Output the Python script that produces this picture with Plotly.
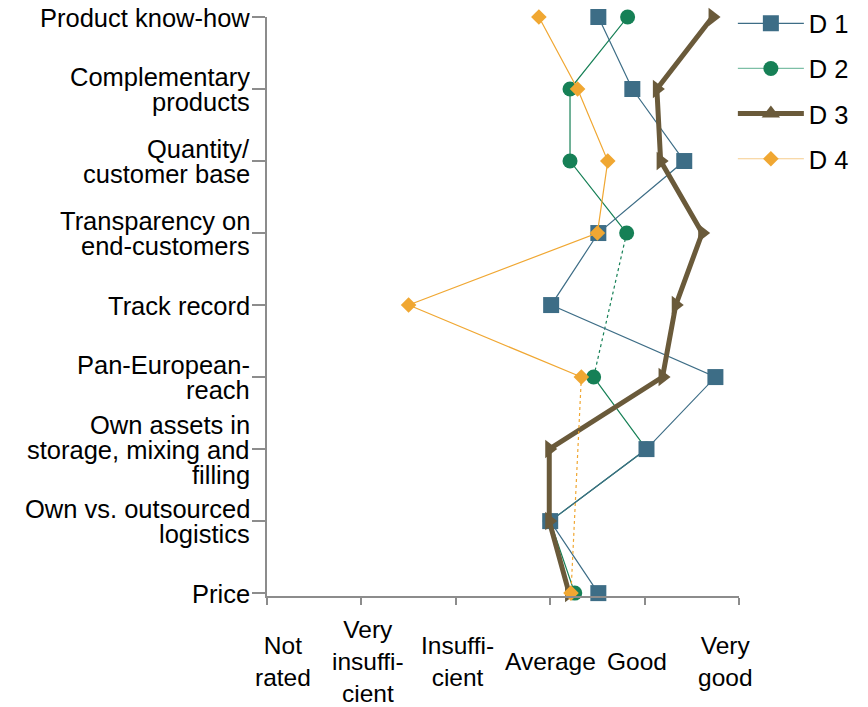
import plotly.graph_objects as go

# Assessment criteria (top to bottom); "\n" marks a line break in the label
criteria = [
    "Product know-how",
    "Complementary\nproducts",
    "Quantity/\ncustomer base",
    "Transparency on\nend-customers",
    "Track record",
    "Pan-European-\nreach",
    "Own assets in\nstorage, mixing and\nfilling",
    "Own vs. outsourced\nlogistics",
    "Price",
]

# Rating scale, 0 = not rated ... 5 = very good
rating_values = [0, 1, 2, 3, 4, 5]
rating_labels = ["Not<br>rated", "Very<br>insuffi-<br>cient", "Insuffi-<br>cient",
                 "Average", "Good", "Very<br>good"]

# Scores per candidate (None = not assessed)
d1 = [3.51, 3.87, 4.42, 3.51, 3.01, 4.75, 4.02, 3.00, 3.51]
d2 = [3.82, 3.21, 3.21, 3.81, None, 3.46, 4.02, 3.00, 3.26]
d3 = [4.72, 4.13, 4.17, 4.61, 4.33, 4.19, 2.99, 2.99, 3.20]
d4 = [2.88, 3.29, 3.61, 3.50, 1.50, 3.33, None, None, 3.22]

series = [
    # name, values, colour, line width, symbol in plot, symbol in legend, size, legend line colour
    ("D 1", d1, "#3d6d86", 1.2, "square", "square", 16, "#3d6d86"),
    ("D 2", d2, "#168056", 1.2, "circle", "circle", 15, "#7dbfa6"),
    ("D 3", d3, "#6a5a3a", 5.0, "triangle-right", "triangle-up", 16, "#6a5a3a"),
    ("D 4", d4, "#f0a732", 1.2, "diamond", "diamond", 12, "#f6cc8c"),
]
draw_order = [1, 0, 2, 3]

FONT = "Liberation Sans, Arial, sans-serif"
FS = 25.5
ypos = list(range(len(criteria)))

fig = go.Figure()

for idx in draw_order:
    name, vals, color, lw, sym, _, size, _ = series[idx]
    # dotted bridge across criteria without a score
    for i, v in enumerate(vals):
        if v is None and i > 0 and vals[i - 1] is not None:
            j = i
            while j < len(vals) and vals[j] is None:
                j += 1
            if j < len(vals):
                fig.add_trace(go.Scatter(
                    x=[vals[i - 1], vals[j]], y=[ypos[i - 1], ypos[j]],
                    mode="lines", line=dict(color=color, width=1.2, dash="dot"),
                    showlegend=False, hoverinfo="skip", cliponaxis=False))
    fig.add_trace(go.Scatter(
        x=vals, y=ypos, mode="lines+markers", name=name,
        line=dict(color=color, width=lw),
        marker=dict(symbol=sym, size=size, color=color),
        connectgaps=False, showlegend=False, cliponaxis=False))

# legend entries
for k, (name, vals, color, lw, _, lsym, size, lcol) in enumerate(series):
    fig.add_trace(go.Scatter(
        x=[None], y=[None], mode="lines+markers", name=name,
        legendgroup=name,
        line=dict(color=lcol, width=lw),
        marker=dict(symbol=lsym, size=size, color=color)))

annotations = []
# criterion labels: one box per line, stacked tightly and right-aligned to the axis
LINE_STEP = 25
for i, label in enumerate(criteria):
    lines = label.split("\n")
    n = len(lines)
    for k, line in enumerate(lines):
        annotations.append(dict(
            x=0, xref="paper", y=ypos[i], yref="y",
            text=line, showarrow=False, xanchor="right", yanchor="middle",
            height=LINE_STEP, valign="bottom", borderpad=0,
            xshift=-16, yshift=-(k - (n - 1) / 2) * LINE_STEP - 2,
            font=dict(family=FONT, size=FS, color="#000000")))

# rating labels below the horizontal axis
label_shift = [16, 7, 2, 0, -8, -14]
for v, txt, dx in zip(rating_values, rating_labels, label_shift):
    annotations.append(dict(
        x=v, xref="x", y=0, yref="paper",
        text=txt, showarrow=False, xanchor="center", yanchor="middle",
        xshift=dx, yshift=-65, align="center",
        font=dict(family=FONT, size=24.5, color="#000000")))

fig.update_layout(
    width=868, height=707,
    margin=dict(l=267, r=129, t=17, b=111, autoexpand=False),
    paper_bgcolor="white", plot_bgcolor="white",
    font=dict(family=FONT, size=FS, color="#000000"),
    showlegend=True,
    legend=dict(
        x=0.987, xanchor="left", y=1.029, yanchor="top",
        font=dict(family=FONT, size=FS, color="#000000"),
        itemwidth=66, tracegroupgap=9,
        bgcolor="rgba(0,0,0,0)", traceorder="grouped"),
    annotations=annotations,
)

fig.update_xaxes(
    range=[0, 5], tickvals=rating_values, showticklabels=False,
    showgrid=False, zeroline=False,
    showline=True, linecolor="#8c8c8c", linewidth=2,
    ticks="outside", ticklen=7, tickwidth=2, tickcolor="#8c8c8c",
)
fig.update_yaxes(
    range=[8.04, 0], tickvals=ypos, showticklabels=False,
    showgrid=False, zeroline=False,
    showline=True, linecolor="#8c8c8c", linewidth=2,
    ticks="outside", ticklen=13, tickwidth=2, tickcolor="#8c8c8c",
)

fig.write_html("out.html")
